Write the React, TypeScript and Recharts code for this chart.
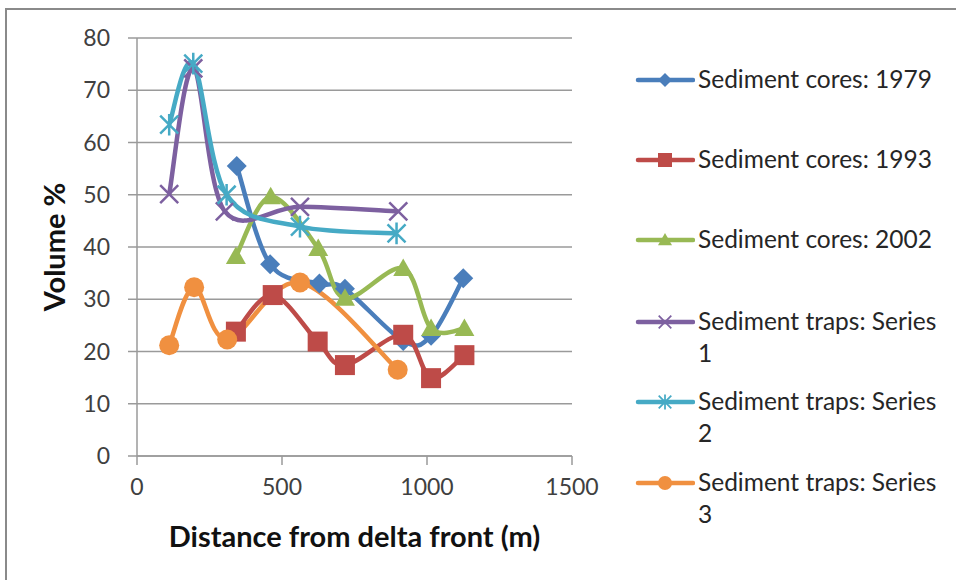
import React from "react";
import { LineChart, Line, XAxis, YAxis, CartesianGrid, Label } from "recharts";

type Pt = { x: number; y: number };

const cores1979: Pt[] = [
  { x: 344, y: 55.5 }, { x: 459, y: 36.7 }, { x: 629, y: 33.0 }, { x: 717, y: 32.0 },
  { x: 918, y: 22.0 }, { x: 1014, y: 23.0 }, { x: 1125, y: 34.0 },
];
const cores1993: Pt[] = [
  { x: 341, y: 23.8 }, { x: 468, y: 30.8 }, { x: 623, y: 21.9 }, { x: 717, y: 17.4 },
  { x: 918, y: 23.2 }, { x: 1014, y: 14.9 }, { x: 1129, y: 19.3 },
];
const cores2002: Pt[] = [
  { x: 341, y: 38.2 }, { x: 461, y: 49.6 }, { x: 625, y: 39.7 }, { x: 717, y: 30.2 },
  { x: 918, y: 35.9 }, { x: 1014, y: 24.4 }, { x: 1129, y: 24.4 },
];
const traps1: Pt[] = [
  { x: 111, y: 50.1 }, { x: 194, y: 74.2 }, { x: 303, y: 46.8 }, { x: 562, y: 47.7 }, { x: 901, y: 46.8 },
];
const traps2: Pt[] = [
  { x: 111, y: 63.4 }, { x: 194, y: 75.1 }, { x: 309, y: 50.0 }, { x: 562, y: 43.9 }, { x: 895, y: 42.6 },
];
const traps3: Pt[] = [
  { x: 111, y: 21.2 }, { x: 197, y: 32.3 }, { x: 311, y: 22.3 }, { x: 562, y: 33.2 }, { x: 899, y: 16.5 },
];

const seriesNames = [
  "Sediment cores: 1979",
  "Sediment cores: 1993",
  "Sediment cores: 2002",
  "Sediment traps: Series 1",
  "Sediment traps: Series 2",
  "Sediment traps: Series 3",
];
const xTicks = [0, 500, 1000, 1500];
const yTicks = [0, 10, 20, 30, 40, 50, 60, 70, 80];

const FONT = "Lato, 'Open Sans', sans-serif";

type Shape = "diamond" | "square" | "triangle" | "x" | "star" | "circle";

const series: { name: string; data: Pt[]; color: string; shape: Shape }[] = [
  { name: seriesNames[0], data: cores1979, color: "#4A7EBB", shape: "diamond" },
  { name: seriesNames[1], data: cores1993, color: "#BE4B48", shape: "square" },
  { name: seriesNames[2], data: cores2002, color: "#98B954", shape: "triangle" },
  { name: seriesNames[3], data: traps1, color: "#7D60A0", shape: "x" },
  { name: seriesNames[4], data: traps2, color: "#46AAC5", shape: "star" },
  { name: seriesNames[5], data: traps3, color: "#F09040", shape: "circle" },
];

// Excel-like smoothed line (Catmull-Rom style bezier)
function excelCurve(context: any) {
  let pts: number[][] = [];
  return {
    areaStart() {},
    areaEnd() {},
    lineStart() {
      pts = [];
    },
    point(x: number, y: number) {
      pts.push([+x, +y]);
    },
    lineEnd() {
      const n = pts.length;
      if (!n) return;
      context.moveTo(pts[0][0], pts[0][1]);
      for (let i = 0; i < n - 1; i++) {
        const p0 = pts[Math.max(i - 1, 0)];
        const p1 = pts[i];
        const p2 = pts[i + 1];
        const p3 = pts[Math.min(i + 2, n - 1)];
        const c1x = p1[0] + (p2[0] - p0[0]) / 6;
        const c1y = p1[1] + (p2[1] - p0[1]) / 6;
        const c2x = p2[0] - (p3[0] - p1[0]) / 6;
        const c2y = p2[1] - (p3[1] - p1[1]) / 6;
        context.bezierCurveTo(c1x, c1y, c2x, c2y, p2[0], p2[1]);
      }
    },
  };
}

function Marker({ cx, cy, shape, color, s = 1 }: { cx: number; cy: number; shape: Shape; color: string; s?: number }) {
  if (cx == null || cy == null) return null;
  switch (shape) {
    case "diamond": {
      const r = 10 * s;
      return <path d={`M${cx},${cy - r}L${cx + r},${cy}L${cx},${cy + r}L${cx - r},${cy}Z`} fill={color} />;
    }
    case "square": {
      const r = 10 * s;
      return <rect x={cx - r} y={cy - r} width={2 * r} height={2 * r} fill={color} />;
    }
    case "triangle": {
      const r = 10 * s;
      return <path d={`M${cx},${cy - r}L${cx + r},${cy + r * 0.75}L${cx - r},${cy + r * 0.75}Z`} fill={color} />;
    }
    case "x": {
      const r = 9 * s;
      return (
        <path
          d={`M${cx - r},${cy - r}L${cx + r},${cy + r}M${cx - r},${cy + r}L${cx + r},${cy - r}`}
          stroke={color}
          strokeWidth={2.5 * s}
          fill="none"
        />
      );
    }
    case "star": {
      const r = 9 * s;
      return (
        <path
          d={`M${cx - r},${cy - r}L${cx + r},${cy + r}M${cx - r},${cy + r}L${cx + r},${cy - r}M${cx},${cy - r * 1.2}L${cx},${cy + r * 1.2}`}
          stroke={color}
          strokeWidth={2.5 * s}
          fill="none"
        />
      );
    }
    case "circle":
    default:
      return <circle cx={cx} cy={cy} r={10 * s} fill={color} />;
  }
}

function LegendBlock() {
  const rows = [80, 160, 240, 322, 402, 483];
  return (
    <div style={{ position: "absolute", left: 0, top: 0 }}>
      {series.map((s, i) => {
        const m = s.name.match(/^(.*Series) (\d)$/);
        const line1 = m ? m[1] : s.name;
        const line2 = m ? m[2] : null;
        return (
          <div key={s.name}>
            <svg
              width={60}
              height={24}
              style={{ position: "absolute", left: 635, top: rows[i] - 12 }}
            >
              <line x1={3} y1={12} x2={58} y2={12} stroke={s.color} strokeWidth={4.5} strokeLinecap="round" />
              <Marker cx={30} cy={12} shape={s.shape} color={s.color} s={0.7} />
            </svg>
            <div
              style={{
                position: "absolute",
                left: 698,
                top: rows[i] - 17,
                fontFamily: FONT,
                fontSize: 24.5,
                lineHeight: "32px",
                color: "#262626",
                whiteSpace: "nowrap",
              }}
            >
              {line1}
              {line2 && <br />}
              {line2}
            </div>
          </div>
        );
      })}
    </div>
  );
}

export default function App() {
  return (
    <div style={{ position: "absolute", left: 0, top: 0, width: 956, height: 580, overflow: "hidden", background: "#fff" }}>
      <div
        style={{
          position: "absolute",
          left: 5,
          top: 8,
          width: 1000,
          height: 700,
          border: "2px solid #8a8a8a",
          boxSizing: "border-box",
        }}
      />
      <LineChart
        width={956}
        height={580}
        margin={{ top: 38, right: 384, bottom: 94, left: 77 }}
        style={{ position: "absolute", left: 0, top: 0 }}
      >
        <CartesianGrid horizontal vertical={false} stroke="#9a9a9a" strokeWidth={1.5} />
        <XAxis
          type="number"
          dataKey="x"
          domain={[0, 1500]}
          ticks={xTicks}
          height={30}
          stroke="#9a9a9a"
          strokeWidth={1.5}
          tickSize={9}
          tick={{ fill: "#404040", fontSize: 23, fontFamily: FONT }}
          tickMargin={14}
          allowDataOverflow
        >
          <Label
            value="Distance from delta front (m)"
            position="insideBottom"
            offset={-61}
            style={{ fontFamily: FONT, fontSize: 29, fontWeight: 700, fill: "#111" }}
          />
        </XAxis>
        <YAxis
          type="number"
          domain={[0, 80]}
          ticks={yTicks}
          width={60}
          stroke="#9a9a9a"
          strokeWidth={1.5}
          tickSize={9}
          tickMargin={18}
          tick={{ fill: "#404040", fontSize: 23, fontFamily: FONT }}
          allowDataOverflow
        >
          <Label
            value="Volume %"
            angle={-90}
            position="insideLeft"
            offset={-22}
            style={{ fontFamily: FONT, fontSize: 29, fontWeight: 700, fill: "#111", textAnchor: "middle" }}
          />
        </YAxis>
        {series.map((s) => (
          <Line
            key={s.name}
            name={s.name}
            data={s.data}
            dataKey="y"
            type={excelCurve as any}
            stroke={s.color}
            strokeWidth={4.5}
            isAnimationActive={false}
            dot={(p: any) => <Marker key={`${s.name}-${p.index}`} cx={p.cx} cy={p.cy} shape={s.shape} color={s.color} />}
            activeDot={false}
          />
        ))}
      </LineChart>
      <LegendBlock />
    </div>
  );
}
